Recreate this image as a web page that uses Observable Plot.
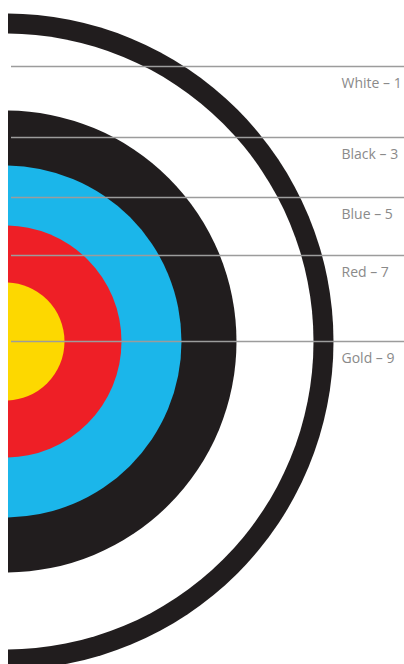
<!DOCTYPE html>
<html>
<head>
<meta charset="utf-8">
<script src="https://cdn.jsdelivr.net/npm/d3@7"></script>
<script src="https://cdn.jsdelivr.net/npm/@observablehq/plot@0.6"></script>
<style>
  html, body { margin: 0; padding: 0; background: #fff; }
  #chart svg { display: block; }
</style>
</head>
<body>
<div id="chart"></div>
<script>
// Target rings, from outside in (radius in target units)
const ringNames  = ["Outer ring", "White", "Black", "Blue", "Red", "Gold"];
const ringRadius = [328, 308, 231, 176, 116, 59];
const ringColors = ["#211d1e", "#ffffff", "#211d1e", "#1bb6ea", "#ee1f26", "#fdd800"];

// Pointer lines (height above centre) and their labels
const lineY      = [275, 204, 144, 86, 0];
const lineLabels = ["White – 1", "Black – 3", "Blue – 5", "Red – 7", "Gold – 9"];

const rings = ringNames.map((name, i) => ({name, r: ringRadius[i], color: ringColors[i]}));
const lines = lineY.map((y, i) => ({y, label: lineLabels[i]}));

const chart = Plot.plot({
  width: 404,
  height: 664,
  marginLeft: 8,
  marginRight: 0,
  marginTop: 0,
  marginBottom: 0,
  style: {background: "#fff"},
  x: {domain: [3, 399], axis: null},
  y: {domain: [-323, 341], axis: null},
  r: {type: "identity"},
  marks: [
    Plot.dot(rings, {x: () => 0, y: () => 0, r: "r", fill: "color", stroke: null, clip: true}),
    Plot.ruleY(lines, {y: "y", x1: 6, x2: 399, stroke: "#9c9c9c", strokeWidth: 1.5}),
    Plot.text(lines, {x: 336, y: "y", text: "label", textAnchor: "start", dy: 17,
      fill: "#8a8a8a", fontSize: 14, fontFamily: "'Open Sans', Lato, sans-serif"})
  ]
});
document.getElementById("chart").appendChild(chart);
</script>
</body>
</html>
